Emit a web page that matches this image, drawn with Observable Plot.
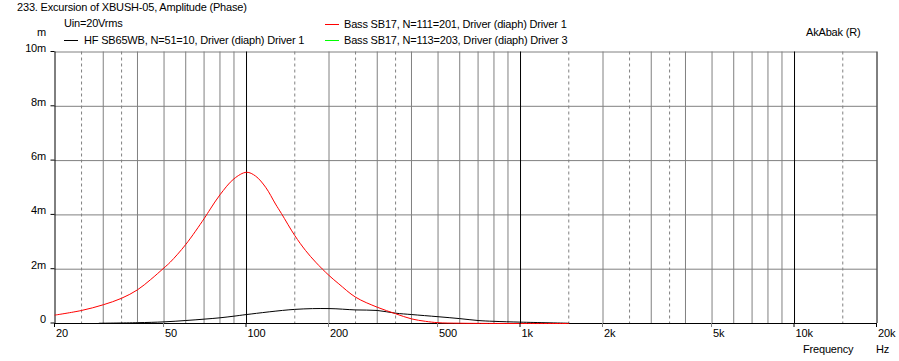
<!DOCTYPE html>
<html><head><meta charset="utf-8">
<script src="https://cdn.jsdelivr.net/npm/d3@7"></script>
<script src="https://cdn.jsdelivr.net/npm/@observablehq/plot@0.6"></script>
<style>
html,body{margin:0;padding:0;background:#fff;}
#wrap{position:relative;width:899px;height:361px;overflow:hidden;font-family:"Liberation Sans",Arial,sans-serif;font-size:11px;letter-spacing:-0.18px;color:#000;}
#wrap svg{position:absolute;left:0;top:0;}
.t{position:absolute;white-space:nowrap;line-height:11px;}
.sw{position:absolute;height:1px;width:14px;}
</style>
</head><body>
<div id="wrap"></div>
<script>
// ---- data ----
const redFreq = [20,25,30,35,40,44.7,50,52.7,60,70,73.8,80,90,100,107.9,117.4,127.6,134.1,150,164.2,178.8,200,217.2,250,300,350,400,450,500,600,1000,1500];
const redVal  = [0.31,0.48,0.69,0.93,1.24,1.62,2.05,2.26,2.91,3.86,4.22,4.74,5.33,5.57,5.43,5.02,4.40,4.05,3.24,2.69,2.26,1.77,1.46,0.97,0.60,0.36,0.17,0.08,0.03,0.01,0.0,0.0];
const blackFreq = [29,40,50,60,70,80,90,100,150,200,250,300,350,400,500,600,700,800,1000,1500];
const blackVal  = [0.01,0.03,0.06,0.11,0.16,0.21,0.27,0.33,0.52,0.55,0.50,0.48,0.38,0.33,0.25,0.18,0.11,0.08,0.05,0.01];
const xTicks = [20,50,100,200,500,1000,2000,5000,10000,20000];
const xTickLabels = ["20","50","100","200","500","1k","2k","5k","10k","20k"];
const yTicks = [0,2,4,6,8,10];
const yTickLabels = ["0","2m","4m","6m","8m","10m"];
const gridSolid = [30,40,50,60,70,80,90,200,300,400,500,600,700,800,900,2000,3000,4000,5000,6000,7000,8000,9000];
const gridDashed = [25,35,150,250,350,1500,2500,3500,15000];
const gridBlack = [20,100,1000,10000,20000];
const title = "233. Excursion of XBUSH-05, Amplitude (Phase)";
const legend = [
  {name:"Bass SB17, N=111=201, Driver (diaph) Driver 1", color:"#ff0000"},
  {name:"Bass SB17, N=113=203, Driver (diaph) Driver 3", color:"#00ff00"},
  {name:"HF SB65WB, N=51=10, Driver (diaph) Driver 1", color:"#000000"}
];

const red = redFreq.map((f,i)=>({f, v:redVal[i]}));
const blk = blackFreq.map((f,i)=>({f, v:blackVal[i]}));
const xLabData = xTicks.map((t,i)=>({t, label:xTickLabels[i]}));
const yLabData = yTicks.map((t,i)=>({t, label:yTickLabels[i]}));
const isBlack = new Set(gridBlack);

const font = '"Liberation Sans",Arial,sans-serif';
const chart = Plot.plot({
  width: 899, height: 361,
  marginLeft: 54.5, marginRight: 22.5, marginTop: 51.5, marginBottom: 38,
  style: {fontFamily:font, fontSize:"11px", background:"#fff", color:"#000", letterSpacing:"-0.18px"},
  x: {type:"log", domain:[20,20000], axis:null},
  y: {domain:[0,10], axis:null},
  marks: [
    Plot.ruleY(yTicks.filter(d=>d>0), {stroke:"#808080", strokeWidth:1}),
    Plot.ruleX(gridSolid, {stroke:"#808080", strokeWidth:1}),
    Plot.ruleX(gridDashed, {stroke:"#808080", strokeWidth:1, strokeDasharray:"3,3"}),
    Plot.ruleX(gridBlack, {stroke:"#000", strokeWidth:1}),
    Plot.ruleY([0], {stroke:"#000", strokeWidth:1}),
    Plot.text(yLabData, {y:"t", text:"label", frameAnchor:"left", textAnchor:"end", dx:-9, dy:-4, fill:"#000", fontSize:11}),
    Plot.text(xLabData, {x:"t", text:"label", frameAnchor:"bottom", textAnchor:"start", dx:1, dy:13, fill:"#000", fontSize:11}),
    Plot.line(blk, {x:"f", y:"v", stroke:"#000", strokeWidth:1, curve:"catmull-rom"}),
    Plot.line(red, {x:"f", y:"v", stroke:"#ff0000", strokeWidth:1, curve:"catmull-rom"})
  ]
});
const wrap = document.getElementById("wrap");
wrap.appendChild(chart);

// tick stubs outside the frame, positioned through the chart's scales
const sx = chart.scale("x"), sy = chart.scale("y");
const svg = d3.select(chart);
const x0 = sx.apply(20), yb = sy.apply(0);
svg.append("g").selectAll("line").data(yTicks).join("line")
  .attr("x1", x0-4).attr("x2", x0).attr("y1", d=>sy.apply(d)).attr("y2", d=>sy.apply(d))
  .attr("stroke", "#000");
svg.append("g").selectAll("line").data(xTicks).join("line")
  .attr("x1", d=>sx.apply(d)).attr("x2", d=>sx.apply(d)).attr("y1", yb).attr("y2", yb+4)
  .attr("stroke", d=>isBlack.has(d)?"#000":"#808080");

function addText(txt, x, yc, anchor){
  const d = document.createElement("div");
  d.className = "t";
  d.textContent = txt;
  d.style.top = (yc-6)+"px";
  if(anchor==="end"){ d.style.right = (899-x)+"px"; } else { d.style.left = x+"px"; }
  wrap.appendChild(d);
}
function addSwatch(color, x, y){
  const s = document.createElement("div");
  s.className = "sw";
  s.style.left = x+"px"; s.style.top = y+"px"; s.style.background = color;
  wrap.appendChild(s);
}
addText(title, 17, 7.5);
addText("Uin=20Vrms", 64, 24);
addSwatch(legend[2].color, 64, 40);
addText(legend[2].name, 84, 40.5);
addSwatch(legend[0].color, 325, 24);
addText(legend[0].name, 344, 24.5);
addSwatch(legend[1].color, 325, 40);
addText(legend[1].name, 344, 40.5);
addText("AkAbak (R)", 806, 33);
addText("m", 46, 33, "end");
addText("Frequency", 803, 349.5);
addText("Hz", 876, 349.5);
</script>
</body></html>
